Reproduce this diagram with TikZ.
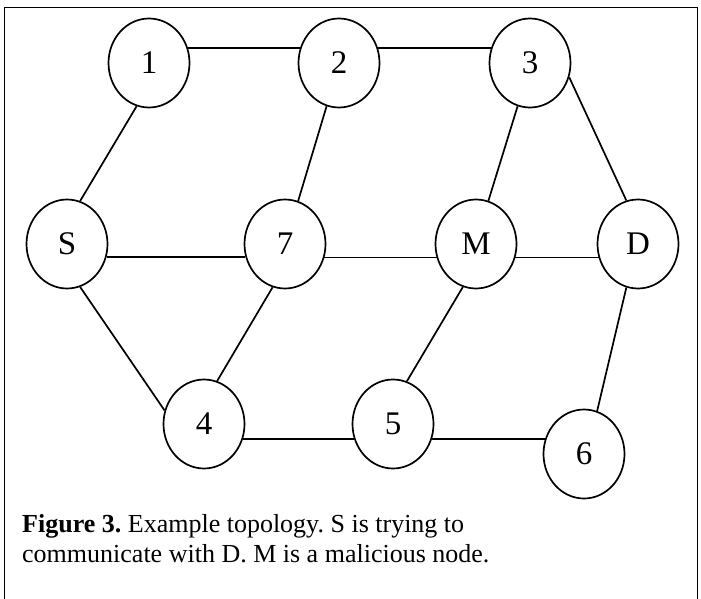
\documentclass[tikz,border=0pt]{standalone}
\usepackage{fontspec}
\setmainfont{Liberation Serif}
\usetikzlibrary{shapes.geometric}
\frenchspacing
\begin{document}
\begin{tikzpicture}[x=1pt,y=-1pt,
  vtx/.style={draw,ellipse,line width=1.7pt,minimum width=81pt,minimum height=89pt,inner sep=0pt,font=\fontsize{33}{36}\selectfont},
  edge/.style={line width=1.7pt}]
\useasboundingbox (0,0) rectangle (701,599);
\draw[line width=1.7pt] (4.5,7.5) rectangle (697.5,640);
\node[vtx] (n1) at (149,63) {1};
\node[vtx] (n2) at (339,63) {2};
\node[vtx] (n3) at (530,63) {3};
\node[vtx] (S) at (67,244) {S};
\node[vtx] (n7) at (285,244) {7};
\node[vtx] (M) at (476,244) {M};
\node[vtx] (D) at (638,244) {D};
\node[vtx] (n4) at (204,424) {4};
\node[vtx] (n5) at (393,424) {5};
\node[vtx] (n6) at (584,454) {6};
\draw[edge] (n1.21) -- (n2.159);
\draw[edge] (n2.21) -- (n3.159);
\draw[edge] (n1.-106) -- (S.73.5);
\draw[edge] (n2.-106) -- (n7.73.5);
\draw[edge] (n3.-106) -- (M.74.7);
\draw[edge] (n3.-20.6) -- (D.105.6);
\draw[edge] (S.-18) -- (n7.198);
\draw[edge] (n7.-19) -- (M.199);
\draw[edge] (M.-19) -- (D.199);
\draw[edge] (S.-73.5) -- (n4.161);
\draw[edge] (n7.-106.5) -- (n4.73.5);
\draw[edge] (n4.-21) -- (n5.201);
\draw[edge] (M.-107.6) -- (n5.72);
\draw[edge] (D.-105) -- (n6.73.5);
\draw[edge] (n5.-21) -- (n6.159);
\node[anchor=north west,inner sep=0pt,align=left,font=\fontsize{26}{30}\selectfont] (cap) at (22,514)
  {\textbf{Figure 3.} Example topology. S is trying to\\communicate with D. M is a malicious node.};
\end{tikzpicture}
\end{document}
